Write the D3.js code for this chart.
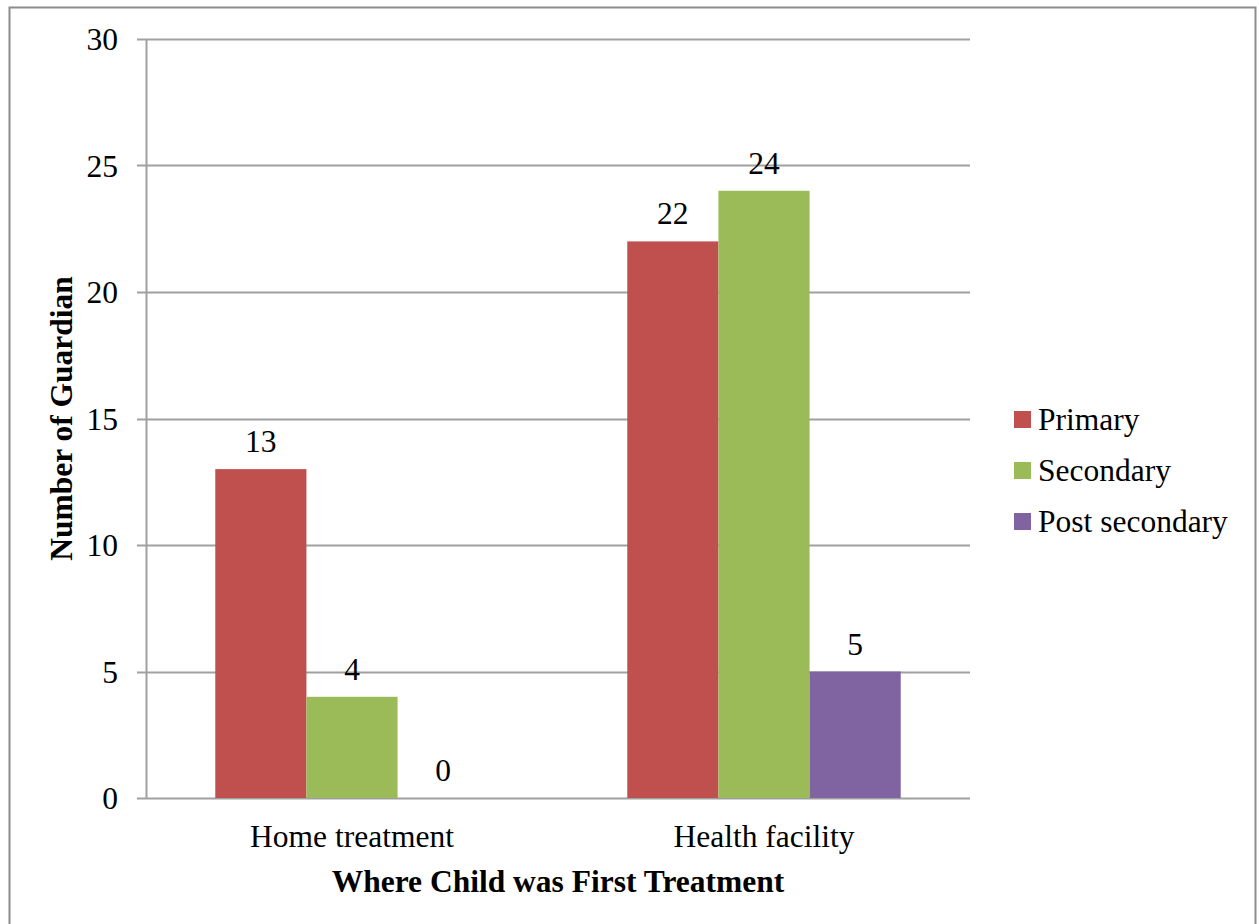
<!DOCTYPE html>
<html>
<head>
<meta charset="utf-8">
<script src="https://cdn.jsdelivr.net/npm/d3@7"></script>
<style>
  body { margin: 0; background: #fff; }
  text { font-family: "Liberation Serif", "Times New Roman", serif; fill: #000; }
</style>
</head>
<body>
<div id="chart"></div>
<script>
const categories = ["Home treatment", "Health facility"];
const seriesNames = ["Primary", "Secondary", "Post secondary"];
const primary = [13, 22];
const secondary = [4, 24];
const postSecondary = [0, 5];
const yTicks = [0, 5, 10, 15, 20, 25, 30];

const seriesValues = [primary, secondary, postSecondary];
const colors = ["#C0504D", "#9BBB59", "#8064A2"];
const fs = "31.5px";

var width = 1259, height = 924;
const margin = { left: 146, right: 289, top: 39, bottom: 126 };

const svg = d3.select("#chart").append("svg")
  .attr("width", width)
  .attr("height", height);

// outer frame
svg.append("rect")
  .attr("x", 9.5).attr("y", 7.5)
  .attr("width", 1246).attr("height", 930)
  .attr("fill", "none").attr("stroke", "#8c8c8c").attr("stroke-width", 2);

const x0 = d3.scaleBand()
  .domain(categories)
  .range([margin.left, width - margin.right]);

const x1 = d3.scaleBand()
  .domain(seriesNames)
  .range([0, x0.bandwidth()])
  .paddingOuter(0.76);

const y = d3.scaleLinear()
  .domain([0, 30])
  .range([height - margin.bottom, margin.top]);

// gridlines
svg.append("g").selectAll("line").data(yTicks).enter()
  .append("line")
  .attr("x1", margin.left - 9).attr("x2", width - margin.right)
  .attr("y1", d => Math.round(y(d)) + 0.5).attr("y2", d => Math.round(y(d)) + 0.5)
  .attr("stroke", "#a0a0a0").attr("stroke-width", 2);

// y axis line
svg.append("line")
  .attr("x1", margin.left + 0.5).attr("x2", margin.left + 0.5)
  .attr("y1", y(30)).attr("y2", y(0))
  .attr("stroke", "#a0a0a0").attr("stroke-width", 2);

// y tick labels
svg.append("g").selectAll("text").data(yTicks).enter()
  .append("text")
  .attr("x", 118).attr("y", d => y(d))
  .attr("dy", "0.35em")
  .attr("text-anchor", "end")
  .style("font-size", fs)
  .text(d => d);

// bars
const groups = svg.append("g").selectAll("g").data(categories).enter()
  .append("g")
  .attr("transform", d => "translate(" + x0(d) + ",0)");

groups.selectAll("rect")
  .data((d, i) => seriesNames.map((s, j) => ({ s: s, v: seriesValues[j][i], c: colors[j] })))
  .enter().append("rect")
  .attr("x", d => x1(d.s))
  .attr("width", x1.bandwidth())
  .attr("y", d => y(d.v))
  .attr("height", d => y(0) - y(d.v))
  .attr("fill", d => d.c);

groups.selectAll("text")
  .data((d, i) => seriesNames.map((s, j) => ({ s: s, v: seriesValues[j][i] })))
  .enter().append("text")
  .attr("x", d => x1(d.s) + x1.bandwidth() / 2)
  .attr("y", d => y(d.v) - 17)
  .attr("text-anchor", "middle")
  .style("font-size", fs)
  .text(d => d.v);

// category labels
svg.append("g").selectAll("text").data(categories).enter()
  .append("text")
  .attr("x", d => x0(d) + x0.bandwidth() / 2)
  .attr("y", 847)
  .attr("text-anchor", "middle")
  .style("font-size", fs)
  .text(d => d);

// axis titles
svg.append("text")
  .attr("x", (margin.left + width - margin.right) / 2)
  .attr("y", 892)
  .attr("text-anchor", "middle")
  .style("font-size", fs).style("font-weight", "bold")
  .text("Where Child was First Treatment");

svg.append("text")
  .attr("transform", "translate(72," + y(15) + ") rotate(-90)")
  .attr("text-anchor", "middle")
  .style("font-size", fs).style("font-weight", "bold")
  .text("Number of Guardian");

// legend
const legend = svg.append("g").selectAll("g").data(seriesNames).enter()
  .append("g")
  .attr("transform", (d, i) => "translate(1014," + (419 + i * 51) + ")");

legend.append("rect")
  .attr("x", 0).attr("y", -8)
  .attr("width", 17).attr("height", 17)
  .attr("fill", (d, i) => colors[i]);

legend.append("text")
  .attr("x", 24).attr("y", 0)
  .attr("dy", "0.35em")
  .style("font-size", fs)
  .text(d => d);
</script>
</body>
</html>
